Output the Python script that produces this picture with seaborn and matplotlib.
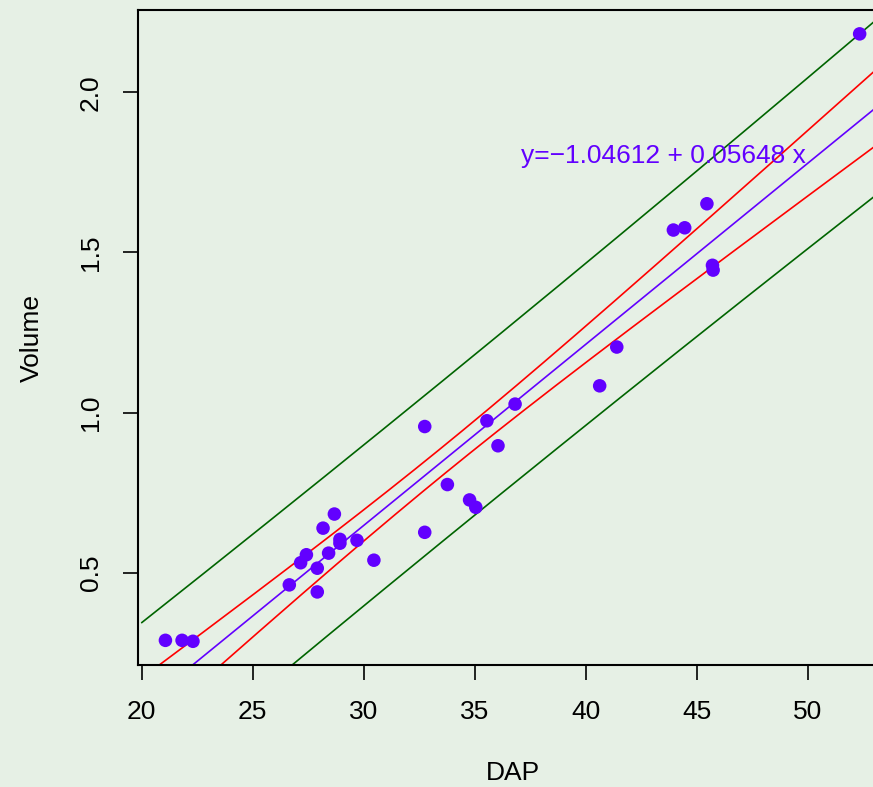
import numpy as np
import pandas as pd
import matplotlib
matplotlib.use("Agg")
import matplotlib.pyplot as plt
import seaborn as sns

# dati (DAP, Volume)
dap = [21.07, 21.82, 22.31, 26.65, 27.16, 27.42, 27.91, 27.91, 28.17, 28.42,
       28.68, 28.93, 28.93, 29.70, 30.46, 32.75, 32.75, 33.77, 34.77, 35.05,
       35.55, 36.05, 36.82, 40.63, 41.40, 43.95, 44.46, 45.46, 45.71, 45.74,
       52.34]
volume = [0.290, 0.290, 0.287, 0.463, 0.532, 0.557, 0.515, 0.441, 0.640, 0.562,
          0.684, 0.605, 0.593, 0.602, 0.540, 0.957, 0.627, 0.776, 0.728, 0.705,
          0.975, 0.897, 1.027, 1.084, 1.205, 1.570, 1.577, 1.652, 1.460, 1.445,
          2.182]
equazione = "y=\u22121.04612 + 0.05648 x"
x_ticks = [20, 25, 30, 35, 40, 45, 50]
y_ticks = [0.5, 1.0, 1.5, 2.0]

df = pd.DataFrame({"DAP": dap, "Volume": volume})

# regressione lineare con bande di confidenza e di previsione (95%)
x = df["DAP"].to_numpy()
y = df["Volume"].to_numpy()
n = len(x)
b1, b0 = np.polyfit(x, y, 1)
res = y - (b0 + b1 * x)
s = np.sqrt(np.sum(res ** 2) / (n - 2))
t = 2.04523  # t(0.975, 29)
sxx = np.sum((x - x.mean()) ** 2)
griglia = np.linspace(20, 55, 200)
fit = b0 + b1 * griglia
se_conf = s * np.sqrt(1 / n + (griglia - x.mean()) ** 2 / sxx)
se_pred = s * np.sqrt(1 + 1 / n + (griglia - x.mean()) ** 2 / sxx)
bande = pd.DataFrame({
    "x": griglia,
    "fit": fit,
    "conf_lo": fit - t * se_conf,
    "conf_hi": fit + t * se_conf,
    "pred_lo": fit - t * se_pred,
    "pred_hi": fit + t * se_pred,
})

sfondo = "#E6F0E5"
viola = "#6200FF"

sns.set_style("ticks", {"axes.facecolor": sfondo, "figure.facecolor": sfondo,
                        "axes.labelcolor": "black", "text.color": "black",
                        "xtick.color": "black", "ytick.color": "black"})
plt.rcParams["font.family"] = ["Liberation Sans", "DejaVu Sans"]

fig = plt.figure(figsize=(8.73, 7.87), dpi=100)
ax = fig.add_axes([0.1577, 0.155, 0.8588, 0.8317])
ax.set_facecolor(sfondo)

sns.lineplot(data=bande, x="x", y="pred_hi", color="#006400", lw=1.2, ax=ax)
sns.lineplot(data=bande, x="x", y="pred_lo", color="#006400", lw=1.2, ax=ax)
sns.lineplot(data=bande, x="x", y="conf_hi", color="red", lw=1.2, ax=ax)
sns.lineplot(data=bande, x="x", y="conf_lo", color="red", lw=1.2, ax=ax)
sns.lineplot(data=bande, x="x", y="fit", color=viola, lw=1.2, ax=ax)
sns.scatterplot(data=df, x="DAP", y="Volume", color=viola, s=95,
                edgecolor="none", ax=ax, zorder=3)

ax.text(37.1, 1.80, equazione, color=viola, fontsize=19, va="center", ha="left")

ax.set_xlim(19.82, 53.59)
ax.set_ylim(0.213, 2.255)
ax.set_xticks(x_ticks)
ax.set_yticks(y_ticks)
ax.set_yticklabels([f"{v:.1f}" for v in y_ticks], rotation=90, va="center")
ax.tick_params(axis="both", direction="out", length=11, width=1.2,
               labelsize=19, pad=14, colors="black", labelcolor="black")
ax.set_xlabel("DAP", fontsize=19, labelpad=27, color="black")
ax.set_ylabel("Volume", fontsize=19, labelpad=25, color="black")
for sp in ax.spines.values():
    sp.set_linewidth(1.5)
    sp.set_color("black")

plt.savefig("out.png", dpi=100, facecolor=sfondo)
plt.close()
